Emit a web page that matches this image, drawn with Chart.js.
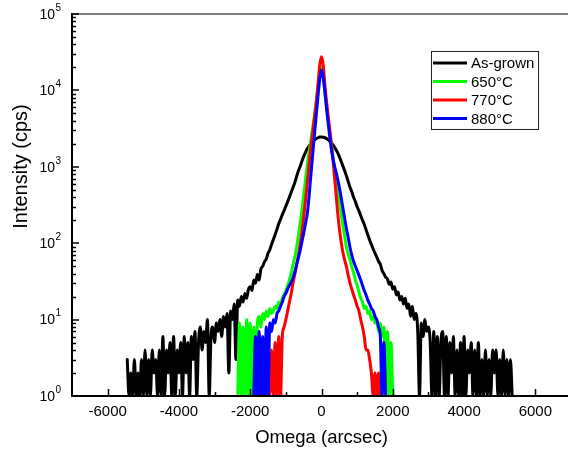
<!DOCTYPE html>
<html>
<head>
<meta charset="utf-8">
<script src="https://cdn.jsdelivr.net/npm/chart.js@4.4.1/dist/chart.umd.min.js"></script>
<style>
html, body { margin: 0; padding: 0; background: #fff; overflow: hidden; }
#wrap { width: 568px; height: 452px; overflow: hidden; }
canvas { display: block; }
</style>
</head>
<body>
<div id="wrap"><canvas id="rockingCurve" width="580" height="452"></canvas></div>
<script>
// omega scans, one value every 50 arcsec starting at the given omega
const omegaStep = 50;

const asGrownStart = -5450;
const asGrown = [
    3, 1, 2, 1, 3, 1, 2, 1, 3, 1,
    4, 1, 3, 1, 4, 2, 3, 1, 4, 1,
    6, 1, 4, 2, 5, 1, 6, 1, 4, 2,
    5, 1, 6, 2, 5, 1, 6, 3, 7, 1,
    5, 8,
    4, 7, 5, 10, 1, 6, 8, 5, 9, 7,
    10, 6, 11, 8, 12, 2, 13, 10, 16, 3,
    18, 15, 20, 17, 22, 19, 25, 27, 24, 33,
    30, 39, 33, 46, 50, 57, 62, 74, 82, 97,
    112, 130, 152, 180, 205, 236, 266, 305, 350, 400,
    465, 535, 620, 740, 880, 1010, 1180, 1370, 1540, 1720,
    1860, 1990, 2130, 2240, 2330, 2400, 2450, 2460,
    2440, 2400, 2330, 2230, 2120, 1990, 1850, 1700, 1530, 1360,
    1180, 1020, 890, 760, 640, 540, 470, 400, 350, 300,
    265, 230, 200, 176, 150, 128, 110, 96, 84, 74,
    66, 58, 53, 44, 40, 36, 34, 29, 31, 25,
    27, 21, 23, 18, 20, 16, 19, 14, 16, 11,
    15, 10, 12, 7, 1, 9, 6, 10, 7, 8,
    5, 1, 7, 1, 6, 1, 5, 7, 1, 6,
    1, 5, 2, 6, 1, 4, 1, 5, 1, 6,
    1, 4, 2, 5, 1, 4, 1, 5, 1, 3,
    1, 4, 1, 3, 1, 4, 2, 4, 1, 3,
    1, 4, 1, 3, 1, 3, 1
];

const t650Start = -2350;
const t650 = [
    1, 9, 1, 8, 1, 10, 1, 9, 1, 8,
    1, 9, 11, 8, 12, 10, 13, 11, 14, 12,
    13, 15, 14, 17, 16, 19, 21, 24, 28, 33,
    41, 52, 66, 88, 125, 180, 270, 430, 680, 1050,
    1550, 2200, 3200, 4600, 7000, 10800, 16500, 20000,
    15500, 9200, 5700, 3700, 2450, 1620, 1100, 760, 520, 355,
    245, 170, 122, 88, 72, 60, 49, 41, 33, 28,
    23, 19, 17, 14, 15, 12, 13, 10, 11, 9,
    10, 7, 9, 6, 8, 1, 7, 1, 5, 1
];

const t770Start = -1850;
const t770 = [
    1, 2, 1, 3, 1, 2, 1, 3, 1, 4,
    1, 5, 1, 6, 1, 6, 8, 10, 13, 17,
    22, 30, 39, 51, 69, 95, 141, 219, 355, 600,
    1050, 1780, 2750, 4270, 6800, 11700, 21400, 27500,
    21000, 11200, 6600, 4070, 2630, 1580, 890, 480, 263, 158,
    105, 76, 60, 49, 38, 30, 25, 21, 18, 15,
    13, 10, 8, 6, 4, 4, 3, 2, 1, 2,
    1, 2, 1, 1
];

const t880Start = -1900;
const t880 = [
    1, 6, 1, 7, 1, 6, 1, 8, 1, 9,
    7, 10, 9, 12, 13, 15, 17, 20, 22, 25,
    28, 31, 35, 42, 52, 64, 80, 104, 135, 180,
    240, 400, 760, 1400, 2600, 4600, 8200, 14000, 18500,
    14500, 9000, 5300, 3300, 2100, 1450, 1100, 880, 700, 540,
    400, 290, 210, 155, 118, 88, 70, 58, 50, 44,
    38, 33, 28, 24, 21, 18, 16, 14, 13, 11,
    10, 8, 6, 1, 5, 1
];

const seriesNames = ['As-grown', '650°C', '770°C', '880°C'];
const seriesColors = ['#000000', '#00ff00', '#ff0000', '#0000ff'];

const xTicks = [-6000, -4000, -2000, 0, 2000, 4000, 6000];
const xMinorTicks = [-5000, -3000, -1000, 1000, 3000, 5000];
const yExponents = [0, 1, 2, 3, 4, 5];

const FONT = '"Liberation Sans", Arial, sans-serif';

function toPoints(start, values) {
    return values.map((v, i) => ({ x: start + i * omegaStep, y: v }));
}

const frame = {
    id: 'frame',
    afterDatasetsDraw(chart) {
        const ctx = chart.ctx;
        const area = chart.chartArea;
        const xs = chart.scales.x;
        const ys = chart.scales.y;
        ctx.save();

        // top border (grey)
        ctx.strokeStyle = '#7f7f7f';
        ctx.lineWidth = 2;
        ctx.beginPath();
        ctx.moveTo(area.left, area.top);
        ctx.lineTo(chart.width, area.top);
        ctx.stroke();

        // left and bottom axis
        ctx.strokeStyle = '#000';
        ctx.lineWidth = 2;
        ctx.beginPath();
        ctx.moveTo(area.left, area.top - 1);
        ctx.lineTo(area.left, area.bottom);
        ctx.lineTo(chart.width, area.bottom);
        ctx.stroke();

        // y ticks, inward
        ctx.lineWidth = 1.5;
        ctx.beginPath();
        yExponents.forEach(e => {
            const y = Math.round(ys.getPixelForValue(Math.pow(10, e)));
            ctx.moveTo(area.left, y);
            ctx.lineTo(area.left + 7, y);
            if (e < 5) {
                for (let m = 2; m <= 9; m++) {
                    const ym = Math.round(ys.getPixelForValue(m * Math.pow(10, e))) + 0.5;
                    ctx.moveTo(area.left, ym);
                    ctx.lineTo(area.left + 4, ym);
                }
            }
        });
        // x ticks, inward
        xTicks.forEach(v => {
            const x = Math.round(xs.getPixelForValue(v)) + 0.5;
            ctx.moveTo(x, area.bottom);
            ctx.lineTo(x, area.bottom - 7);
        });
        xMinorTicks.forEach(v => {
            const x = Math.round(xs.getPixelForValue(v)) + 0.5;
            ctx.moveTo(x, area.bottom);
            ctx.lineTo(x, area.bottom - 4);
        });
        ctx.stroke();

        // tick labels
        ctx.fillStyle = '#000';
        ctx.font = '15px ' + FONT;
        ctx.textAlign = 'center';
        ctx.textBaseline = 'middle';
        xTicks.forEach(v => {
            ctx.fillText(String(v), xs.getPixelForValue(v), 412);
        });
        yExponents.forEach(e => {
            const y = ys.getPixelForValue(Math.pow(10, e));
            ctx.font = '14px ' + FONT;
            ctx.textAlign = 'right';
            ctx.textBaseline = 'middle';
            ctx.fillText('10', 55, y + 1);
            ctx.font = '10px ' + FONT;
            ctx.textAlign = 'left';
            ctx.fillText(String(e), 55.5, y - 6);
        });

        // axis titles
        ctx.font = '18.5px ' + FONT;
        ctx.textAlign = 'center';
        ctx.textBaseline = 'middle';
        ctx.fillText('Omega (arcsec)', 321.5, 438);
        ctx.font = '20px ' + FONT;
        ctx.translate(21, 166.5);
        ctx.rotate(-Math.PI / 2);
        ctx.fillText('Intensity (cps)', 0, 0);
        ctx.setTransform(1, 0, 0, 1, 0, 0);

        // legend
        ctx.strokeStyle = '#222';
        ctx.lineWidth = 1;
        ctx.strokeRect(431.5, 51.5, 107, 78);
        const rowY = [63, 81.5, 100, 118.5];
        ctx.font = '15px ' + FONT;
        ctx.textAlign = 'left';
        seriesNames.forEach((name, i) => {
            ctx.strokeStyle = seriesColors[i];
            ctx.lineWidth = 3;
            ctx.beginPath();
            ctx.moveTo(433, rowY[i]);
            ctx.lineTo(467, rowY[i]);
            ctx.stroke();
            ctx.fillStyle = '#000';
            ctx.fillText(name, 471, rowY[i] + 1);
        });
        ctx.restore();
    }
};

const starts = [asGrownStart, t650Start, t770Start, t880Start];
const values = [asGrown, t650, t770, t880];

new Chart(document.getElementById('rockingCurve').getContext('2d'), {
    type: 'line',
    data: {
        datasets: seriesNames.map((name, i) => ({
            label: name,
            data: toPoints(starts[i], values[i]),
            borderColor: seriesColors[i],
            backgroundColor: seriesColors[i],
            borderWidth: 3,
            borderJoinStyle: 'round',
            borderCapStyle: 'round',
            pointRadius: 0,
            cubicInterpolationMode: 'monotone',
            fill: false,
            order: 3 - i
        }))
    },
    options: {
        responsive: false,
        animation: false,
        layout: { padding: { left: 72, top: 14, right: 9, bottom: 56 } },
        plugins: {
            legend: { display: false },
            tooltip: { enabled: false }
        },
        scales: {
            x: { type: 'linear', min: -7000, max: 7000, display: false },
            y: { type: 'logarithmic', min: 1, max: 100000, display: false }
        }
    },
    plugins: [frame]
});
</script>
</body>
</html>
